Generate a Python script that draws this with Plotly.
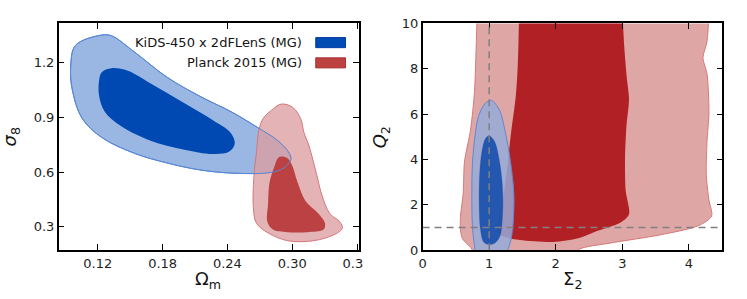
import plotly.graph_objects as go

# ---------------- data ----------------
# Left panel: Omega_m vs sigma_8
kids_2s_om = [0.0949, 0.0994, 0.1236, 0.1327, 0.1535, 0.184, 0.2142, 0.2441, 0.2686, 0.2867, 0.2973,
              0.2987, 0.2927, 0.2806, 0.2444, 0.2142, 0.184, 0.1538, 0.1236, 0.1055, 0.0964, 0.0949]
kids_2s_s8 = [1.182, 1.296, 1.352, 1.348, 1.261, 1.121, 1.017, 0.929, 0.842, 0.772, 0.703,
              0.668, 0.624, 0.598, 0.594, 0.612, 0.650, 0.703, 0.790, 0.894, 1.051, 1.182]
kids_1s_om = [0.1212, 0.1236, 0.1327, 0.1478, 0.1689, 0.1991, 0.2263, 0.2429, 0.2468, 0.2414, 0.2263,
              0.1991, 0.1689, 0.1417, 0.1266, 0.1212, 0.1212]
kids_1s_s8 = [1.104, 1.148, 1.170, 1.156, 1.086, 0.982, 0.886, 0.816, 0.755, 0.711, 0.699,
              0.724, 0.772, 0.851, 0.929, 1.017, 1.104]
planck_2s_om = [0.2897, 0.3003, 0.3078, 0.3109, 0.3154, 0.3229, 0.3274, 0.3349, 0.3440, 0.3464, 0.3395,
                0.3199, 0.2957, 0.2776, 0.2670, 0.2640, 0.2649, 0.2670, 0.2692, 0.2731, 0.2806, 0.2897]
planck_2s_s8 = [0.973, 0.956, 0.894, 0.816, 0.746, 0.580, 0.475, 0.371, 0.327, 0.292, 0.258,
                0.223, 0.223, 0.266, 0.318, 0.406, 0.606, 0.711, 0.834, 0.894, 0.938, 0.973]
planck_1s_om = [0.2897, 0.2957, 0.3003, 0.3048, 0.3123, 0.3244, 0.3304, 0.3290, 0.3138, 0.2957, 0.2821,
                0.2770, 0.2776, 0.2791, 0.2836, 0.2867, 0.2897]
planck_1s_s8 = [0.685, 0.676, 0.632, 0.546, 0.441, 0.371, 0.318, 0.284, 0.270, 0.270, 0.284,
                0.327, 0.423, 0.546, 0.632, 0.676, 0.685]

# Right panel: Sigma_2 vs Q_2
planck_2s_sig = [0.82, 0.80, 0.78, 0.72, 0.63, 0.61, 0.57, 0.57, 0.60, 0.73, 0.83, 2.20, 2.34, 2.83, 3.56,
                 4.15, 4.34, 4.30, 4.26, 4.27, 4.30, 4.27, 4.21, 4.27, 4.30]
planck_2s_q = [10.5, 8.5, 7.0, 5.3, 3.9, 2.5, 1.5, 0.9, 0.5, 0.1, -0.4, -0.4, 0.03, 0.32, 0.67,
               1.09, 1.51, 2.21, 3.32, 4.72, 6.12, 7.79, 8.49, 9.19, 10.5]
planck_1s_sig = [1.45, 1.43, 1.40, 1.33, 1.28, 1.22, 1.15, 1.10, 1.15, 1.27, 1.46, 1.96, 2.34, 2.59,
                 2.98, 3.10, 3.05, 3.04, 3.06, 3.10, 3.07, 3.03, 3.00]
planck_1s_q = [10.5, 8.2, 6.8, 5.2, 3.9, 2.5, 1.5, 1.0, 0.7, 0.55, 0.45, 0.36, 0.52, 0.81,
               1.23, 1.58, 2.63, 4.02, 5.42, 6.67, 7.51, 8.91, 10.5]
kids_2s_sig = [1.037, 1.15, 1.25, 1.32, 1.37, 1.36, 1.33, 1.28, 1.22, 0.82, 0.78, 0.75, 0.74, 0.75,
               0.80, 0.84, 0.92, 0.98, 1.037]
kids_2s_q = [6.6, 6.2, 5.1, 3.9, 2.5, 1.2, 0.5, 0.0, -0.4, -0.4, 0.2, 1.0, 2.5, 3.9,
             5.3, 5.9, 6.4, 6.56, 6.6]
kids_1s_sig = [1.0, 1.08, 1.15, 1.20, 1.20, 1.16, 1.08, 1.0, 0.92, 0.87, 0.85, 0.86, 0.90, 0.95, 1.0]
kids_1s_q = [5.05, 4.8, 4.0, 2.8, 1.5, 0.6, 0.3, 0.25, 0.35, 0.9, 2.0, 3.5, 4.5, 4.95, 5.05]

ref_sigma = 1.0
ref_q = 1.0

left_xticks = [0.12, 0.18, 0.24, 0.30, 0.36]
left_xticktext = ["0.12", "0.18", "0.24", "0.30", "0.3\u2007"]
left_yticks = [0.3, 0.6, 0.9, 1.2]
right_xticks = [0, 1, 2, 3, 4]
right_yticks = [0, 2, 4, 6, 8, 10]

legend_labels = ["KiDS-450 x 2dFLenS (MG)", "Planck 2015 (MG)"]

# ---------------- figure ----------------
FONT = "DejaVu Sans"
fig = go.Figure()


def poly(x, y, fill, line_color=None, lw=1.0, xa="x", ya="y", smoothing=1.0):
    fig.add_trace(go.Scatter(
        x=x, y=y, mode="lines", fill="toself", fillcolor=fill,
        line=dict(color=line_color if line_color else "rgba(0,0,0,0)", width=lw,
                  shape="spline", smoothing=smoothing),
        xaxis=xa, yaxis=ya, hoverinfo="skip", showlegend=False))


# Left panel
poly(kids_2s_om, kids_2s_s8, "rgb(153,183,226)", "rgb(88,135,212)", 1.0)
poly(kids_1s_om, kids_1s_s8, "rgb(0,72,178)", None, 0)
poly(planck_2s_om, planck_2s_s8, "rgba(220,158,162,0.78)", "rgb(212,118,122)", 1.0)
poly(planck_1s_om, planck_1s_s8, "rgb(187,65,66)", None, 0)
fig.add_trace(go.Scatter(x=kids_2s_om, y=kids_2s_s8, mode="lines",
                         line=dict(color="rgb(88,135,212)", width=1.0, shape="spline"),
                         xaxis="x", yaxis="y", hoverinfo="skip", showlegend=False))

# Right panel
poly(planck_2s_sig, planck_2s_q, "rgb(223,166,166)", "rgb(214,120,120)", 1.0, "x2", "y2", 0.8)
poly(planck_1s_sig, planck_1s_q, "rgb(177,32,36)", None, 0, "x2", "y2", 0.8)
poly(kids_2s_sig, kids_2s_q, "rgba(150,170,215,0.85)", "rgb(95,135,212)", 1.0, "x2", "y2")
poly(kids_1s_sig, kids_1s_q, "rgba(18,75,170,0.88)", "rgba(18,75,170,0.5)", 0.5, "x2", "y2")

# reference dashed lines
fig.add_shape(type="line", xref="x2", yref="y2", x0=ref_sigma, x1=ref_sigma, y0=0, y1=10,
              line=dict(color="rgb(128,128,128)", width=1.5, dash="7px,5px"))
fig.add_shape(type="line", xref="x2", yref="y2", x0=0, x1=4.5, y0=ref_q, y1=ref_q,
              line=dict(color="rgb(128,128,128)", width=1.5, dash="7px,5px"))

W, H = 747, 299


def px(v):
    return v / W


def py(v):
    return 1 - v / H


axis_common = dict(showgrid=False, zeroline=False, showline=True, linecolor="black", linewidth=1.5,
                   mirror="ticks", ticks="inside", ticklen=6, tickwidth=1, tickcolor="black",
                   tickfont=dict(family=FONT, size=13, color="rgb(30,30,30)"))

ydom = [py(256), py(17.3)]
fig.update_layout(
    width=W, height=H, margin=dict(l=0, r=0, t=0, b=0),
    paper_bgcolor="white", plot_bgcolor="white", showlegend=False,
    xaxis=dict(domain=[px(56), px(363)], range=[0.0838, 0.3616], tickvals=left_xticks,
               ticktext=left_xticktext, anchor="y", **axis_common),
    yaxis=dict(domain=ydom, range=[0.171, 1.416], tickvals=left_yticks,
               ticktext=["0.3", "0.6", "0.9", "1.2"], anchor="x", **axis_common),
    xaxis2=dict(domain=[px(428.3), px(735)], range=[0, 4.5], tickvals=right_xticks,
                anchor="y2", **axis_common),
    yaxis2=dict(domain=ydom, range=[0, 10], tickvals=right_yticks, anchor="x2", **axis_common),
)

# axis titles
ann = []
ann.append(dict(text="Ω<sub>m</sub>", x=px(209), y=py(287.5), xref="paper", yref="paper",
                showarrow=False, xanchor="center", yanchor="middle",
                font=dict(family=FONT, size=18, color="rgb(20,20,20)")))
ann.append(dict(text="<i>σ</i><sub>8</sub>", x=px(7.5), y=py(137), xref="paper", yref="paper",
                showarrow=False, xanchor="center", yanchor="middle", textangle=-90,
                font=dict(family=FONT, size=18, color="rgb(20,20,20)")))
ann.append(dict(text="Σ<sub>2</sub>", x=px(582), y=py(287.5), xref="paper", yref="paper",
                showarrow=False, xanchor="center", yanchor="middle",
                font=dict(family=FONT, size=18, color="rgb(20,20,20)")))
ann.append(dict(text="<i>Q</i><sub>2</sub>", x=px(386), y=py(137), xref="paper", yref="paper",
                showarrow=False, xanchor="center", yanchor="middle", textangle=-90,
                font=dict(family=FONT, size=18, color="rgb(20,20,20)")))

# custom legend (text left of swatch)
legend_y = [37.5, 58.8]
legend_fill = ["rgb(0,75,180)", "rgb(190,65,66)"]
legend_edge = ["rgb(0,60,160)", "rgb(170,50,50)"]
for lab, yy, fc, ec in zip(legend_labels, legend_y, legend_fill, legend_edge):
    ann.append(dict(text=lab, x=px(307), y=py(yy), xref="paper", yref="paper", showarrow=False,
                    xanchor="right", yanchor="middle",
                    font=dict(family=FONT, size=13, color="rgb(20,20,20)")))
    fig.add_shape(type="rect", xref="paper", yref="paper", x0=px(319), x1=px(349.5),
                  y0=py(yy + 5.3), y1=py(yy - 5.3), fillcolor=fc, line=dict(color=ec, width=1))
fig.update_layout(annotations=ann)

fig.write_html("out.html", config={"displayModeBar": False},
               post_script="document.body.style.margin='0';document.body.style.overflow='hidden';")
